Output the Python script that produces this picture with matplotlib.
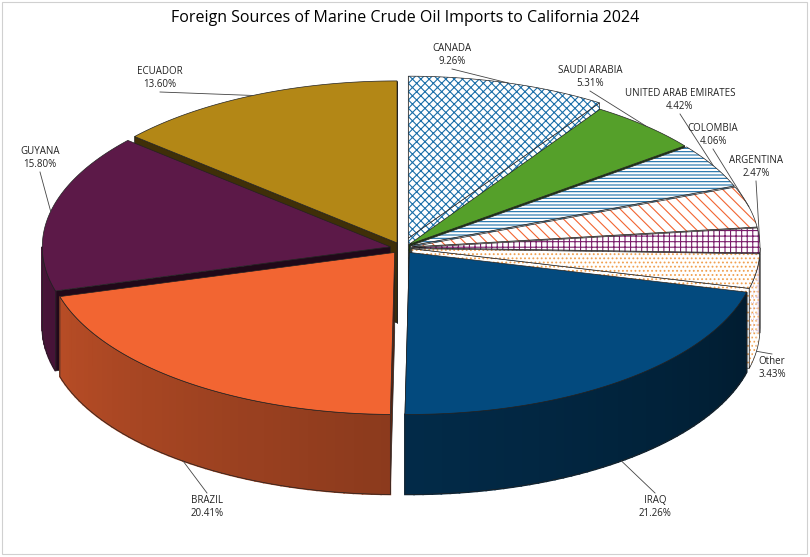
import numpy as np
import matplotlib.pyplot as plt
import matplotlib.colors as mcolors
from matplotlib.patches import Polygon, Rectangle

plt.rcParams['hatch.linewidth'] = 0.8

names = ['CANADA', 'SAUDI ARABIA', 'UNITED ARAB EMIRATES', 'COLOMBIA', 'ARGENTINA',
         'Other', 'IRAQ', 'BRAZIL', 'GUYANA', 'ECUADOR']
shares = [9.26, 5.31, 4.42, 4.06, 2.47, 3.43, 21.26, 20.41, 15.80, 13.60]

# look of each slice: face colour, hatch, hatch colour
faces = ['white', '#55a02a', 'white', 'white', 'white', 'white',
         '#034a7e', '#f26532', '#5c1948', '#b38716']
hatches = ['xxxx', None, '-----', '\\\\\\', '+++', '....', None, None, None, None]
hcolors = ['#1a6ea8', None, '#1a6ea8', '#f26532', '#7a1d6a', '#f0a050', None, None, None, None]
explode = [22, 10, 10, 10, 10, 10, 12, 12, 12, 12]
label_xy = [(452, 55), (590, 77), (680, 100), (713, 135), (756, 167),
            (772, 368), (655, 507), (207, 507), (40, 158), (160, 78)]

cx, cy, rx, ry, depth = 402, 248, 348, 162, 80

fig = plt.figure(figsize=(8.1, 5.57), dpi=100)
ax = fig.add_axes([0, 0, 1, 1])
ax.set_xlim(0, 810)
ax.set_ylim(557, 0)
ax.axis('off')
ax.add_patch(Rectangle((2, 2), 805, 552, fill=False, ec='#d0d0d0', lw=0.8))


def pt(th, off, r=1.0, dz=0.0):
    t = np.radians(th)
    return (cx + off[0] + rx * r * np.sin(t), cy + off[1] - ry * r * np.cos(t) + dz)


def shade(c, f):
    r, g, b = mcolors.to_rgb(c)
    return (r * f, g * f, b * f)


def add(poly, face, hatch, hcol, lw_out=0.5, out='#222222'):
    if hatch:
        ax.add_patch(Polygon(poly, closed=True, fc=face, ec=hcol, hatch=hatch, lw=0))
        ax.add_patch(Polygon(poly, closed=True, fill=False, ec=out, lw=lw_out))
    else:
        ax.add_patch(Polygon(poly, closed=True, fc=face, ec=out, lw=lw_out))


total = sum(shares)
starts = np.cumsum([0] + shares[:-1]) / total * 360
ends = np.cumsum(shares) / total * 360
offs = []
for i in range(len(shares)):
    m = np.radians((starts[i] + ends[i]) / 2)
    offs.append((explode[i] * np.sin(m), -explode[i] * np.cos(m) * ry / rx))

# sides and walls, back to front
order = sorted(range(len(shares)), key=lambda i: -np.cos(np.radians((starts[i] + ends[i]) / 2)))
for i in order:
    a0, a1, off = starts[i], ends[i], offs[i]
    base = faces[i] if not hatches[i] else hcolors[i]
    walls = []
    if -np.sin(np.radians(a0)) > -0.15:
        walls.append(a0)
    if np.sin(np.radians(a1)) > -0.15:
        walls.append(a1)
    for w in walls:
        q = [pt(0, off, 0), pt(w, off), pt(w, off, dz=depth), pt(0, off, 0, dz=depth)]
        add(q, shade(base, 0.35) if not hatches[i] else 'white', hatches[i], hcolors[i])
    lo, hi = max(a0, 90), min(a1, 270)
    if hi > lo:
        ths = np.linspace(lo, hi, max(2, int((hi - lo) / 1.5) + 1))
        for t0, t1 in zip(ths[:-1], ths[1:]):
            f = 0.35 + 0.45 * (t0 - 90) / 180
            q = [pt(t0, off), pt(t1, off), pt(t1, off, dz=depth), pt(t0, off, dz=depth)]
            if hatches[i]:
                ax.add_patch(Polygon(q, fc='white', ec=hcolors[i], hatch=hatches[i], lw=0))
            else:
                ax.add_patch(Polygon(q, fc=shade(base, f), ec=shade(base, f), lw=1.2))
        outline = [pt(t, off) for t in ths] + [pt(t, off, dz=depth) for t in ths[::-1]]
        ax.add_patch(Polygon(outline, closed=True, fill=False, ec='#222222', lw=0.5))

# top faces
for i in range(len(shares)):
    a0, a1, off = starts[i], ends[i], offs[i]
    ths = np.linspace(a0, a1, 80)
    poly = [pt(0, off, 0)] + [pt(t, off) for t in ths]
    add(poly, faces[i], hatches[i], hcolors[i])

# labels with leader lines
for i in range(len(shares)):
    m = (starts[i] + ends[i]) / 2
    lx, ly = label_xy[i]
    ax.text(lx, ly, f'{names[i]}\n{shares[i]:.2f}%', ha='center', va='center',
            fontsize=7, family='Open Sans', color='#222222', linespacing=1.3)
    rim = pt(m, offs[i], dz=depth if np.cos(np.radians(m)) < 0 else 0)
    dy = 14 if rim[1] > ly else -14
    ax.plot([lx, rim[0]], [ly + dy, rim[1]], color='#444444', lw=0.6)

ax.text(405, 18, 'Foreign Sources of Marine Crude Oil Imports to California 2024',
        ha='center', va='center', fontsize=11.5, family='Open Sans')

fig.savefig('out.png', dpi=100)
